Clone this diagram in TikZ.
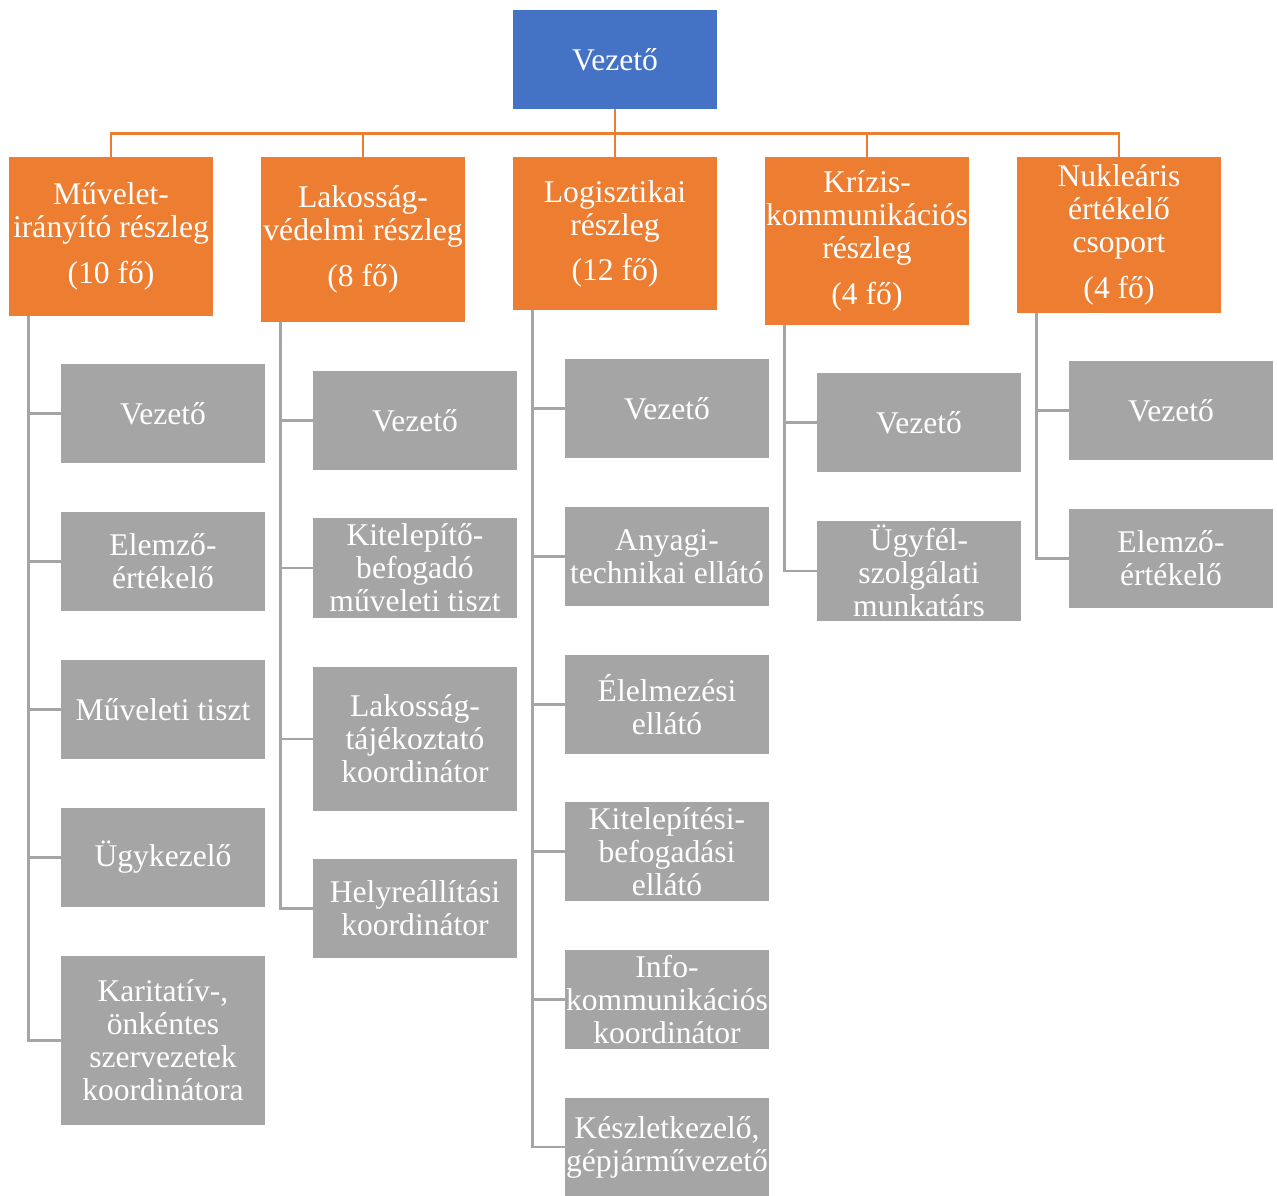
\documentclass[tikz,border=0pt]{standalone}
\usepackage{fontspec}
\setmainfont{Liberation Serif}
\definecolor{cblue}{HTML}{4472C4}
\definecolor{corange}{HTML}{ED7D31}
\definecolor{cgray}{HTML}{A5A5A5}
\begin{document}
\begin{tikzpicture}[x=1pt,y=1pt,
  box/.style={rectangle, minimum width=204, inner sep=0pt, align=center, text=white,
    font=\fontsize{31.6}{33}\selectfont},
  topbox/.style={box, fill=cblue, minimum height=99},
  obox/.style={box, fill=corange},
  gbox/.style={box, fill=cgray},
  oline/.style={draw=corange, line width=2.7},
  gline/.style={draw=cgray, line width=2.8}]
\useasboundingbox (0,0) rectangle (1277,-1196);
% top
\node[topbox] (top) at (615,-59.5) {Vezető};
% orange
\node[obox, minimum height=159] (o1) at (111,-236.5) {Művelet-\\irányító részleg\\[13pt](10 fő)};
\node[obox, minimum height=165] (o2) at (363,-239.5) {Lakosság-\\védelmi részleg\\[13pt](8 fő)};
\node[obox, minimum height=153] (o3) at (615,-233.5) {Logisztikai\\részleg\\[12pt](12 fő)};
\node[obox, minimum height=168] (o4) at (867,-241) {Krízis-\\kommunikációs\\részleg\\[13pt](4 fő)};
\node[obox, minimum height=156] (o5) at (1119,-235) {Nukleáris\\értékelő\\csoport\\[13pt](4 fő)};
% column 1
\node[gbox, minimum height=99] (a1) at (163,-413.5) {Vezető};
\node[gbox, minimum height=99] (a2) at (163,-561.5) {Elemző-\\értékelő};
\node[gbox, minimum height=99] (a3) at (163,-709.5) {Műveleti tiszt};
\node[gbox, minimum height=99] (a4) at (163,-857.5) {Ügykezelő};
\node[gbox, minimum height=169] (a5) at (163,-1040.5) {Karitatív-,\\önkéntes\\szervezetek\\koordinátora};
% column 2
\node[gbox, minimum height=99] (b1) at (415,-420.5) {Vezető};
\node[gbox, minimum height=100] (b2) at (415,-568) {Kitelepítő-\\befogadó\\műveleti tiszt};
\node[gbox, minimum height=144] (b3) at (415,-739) {Lakosság-\\tájékoztató\\koordinátor};
\node[gbox, minimum height=99] (b4) at (415,-908.5) {Helyreállítási\\koordinátor};
% column 3
\node[gbox, minimum height=99] (c1) at (667,-408.5) {Vezető};
\node[gbox, minimum height=99] (c2) at (667,-556.5) {Anyagi-\\technikai ellátó};
\node[gbox, minimum height=99] (c3) at (667,-704.5) {Élelmezési\\ellátó};
\node[gbox, minimum height=99] (c4) at (667,-851.5) {Kitelepítési-\\befogadási\\ellátó};
\node[gbox, minimum height=99] (c5) at (667,-999.5) {Info-\\kommunikációs\\koordinátor};
\node[gbox, minimum height=98] (c6) at (667,-1147) {Készletkezelő,\\gépjárművezető};
% column 4
\node[gbox, minimum height=99] (d1) at (919,-422.5) {Vezető};
\node[gbox, minimum height=100] (d2) at (919,-571) {Ügyfél-\\szolgálati\\munkatárs};
% column 5
\node[gbox, minimum height=99] (e1) at (1171,-410.5) {Vezető};
\node[gbox, minimum height=99] (e2) at (1171,-558.5) {Elemző-\\értékelő};
% orange connectors
\draw[oline] (top.south) -- (o3.north);
\foreach \o in {o1,o2,o4,o5} {
  \draw[oline] (top.south) -- ++(0,-24) -| (\o.north);
}
% gray connectors
\foreach \p/\c in {o1/a1,o1/a2,o1/a3,o1/a4,o1/a5,
                   o2/b1,o2/b2,o2/b3,o2/b4,
                   o3/c1,o3/c2,o3/c3,o3/c4,o3/c5,o3/c6,
                   o4/d1,o4/d2,
                   o5/e1,o5/e2} {
  \draw[gline] (\p.south west) ++(19.5,0) |- (\c.west);
}
\end{tikzpicture}
\end{document}
